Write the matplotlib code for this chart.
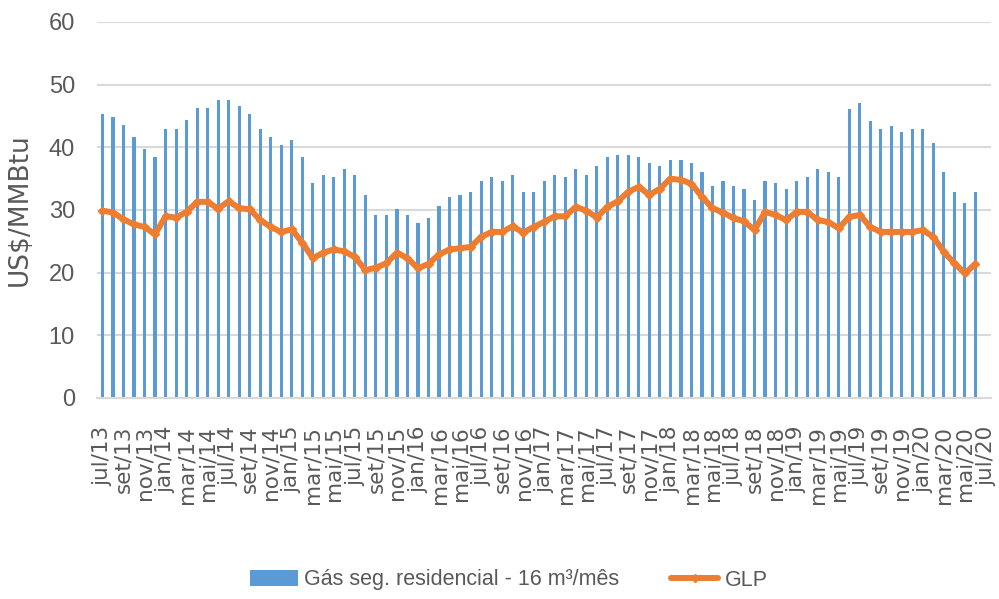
import matplotlib
matplotlib.use("Agg")
import matplotlib.pyplot as plt
import numpy as np

meses = ["jan", "fev", "mar", "abr", "mai", "jun", "jul", "ago", "set", "out", "nov", "dez"]
# Categories: jul/13 .. jul/20 (85 months)
categorias = []
for k in range(85):
    m = (6 + k) % 12
    a = 13 + (6 + k) // 12
    categorias.append(f"{meses[m]}/{a:02d}")

gas_seg = [45.3, 44.8, 43.5, 41.6, 39.8, 38.4, 43.0, 43.0, 44.4, 46.2,
           46.2, 47.5, 47.5, 46.6, 45.3, 43.0, 41.6, 40.3, 41.2, 38.4,
           34.3, 35.6, 35.2, 36.6, 35.6, 32.4, 29.2, 29.2, 30.2, 29.2,
           27.9, 28.8, 30.7, 32.0, 32.4, 32.9, 34.7, 35.2, 34.7, 35.6,
           32.9, 32.9, 34.7, 35.6, 35.2, 36.6, 35.6, 37.0, 38.4, 38.8,
           38.8, 38.4, 37.5, 37.0, 37.9, 37.9, 37.5, 36.1, 33.8, 34.7,
           33.8, 33.3, 31.6, 34.7, 34.3, 33.3, 34.7, 35.2, 36.6, 36.1,
           35.2, 46.1, 47.0, 44.2, 42.9, 43.4, 42.5, 42.9, 42.9, 40.7,
           36.1, 32.9, 31.1, 32.9]

glp = [29.9, 29.6, 28.5, 27.7, 27.3, 26.1, 29.0, 28.8, 29.7, 31.3,
       31.3, 30.2, 31.4, 30.3, 30.1, 28.4, 27.3, 26.5, 26.9, 24.8,
       22.3, 23.2, 23.7, 23.4, 22.5, 20.4, 20.8, 21.5, 23.2, 22.3,
       20.7, 21.4, 22.9, 23.7, 23.9, 24.1, 25.7, 26.5, 26.5, 27.4,
       26.4, 27.3, 28.1, 29.0, 29.0, 30.5, 29.9, 28.8, 30.5, 31.4,
       32.9, 33.7, 32.4, 33.4, 35.0, 34.8, 34.2, 32.1, 30.3, 29.6,
       28.7, 28.2, 26.8, 29.7, 29.2, 28.4, 29.7, 29.7, 28.4, 28.1,
       27.1, 28.9, 29.2, 27.3, 26.5, 26.5, 26.5, 26.5, 26.8, 25.7,
       23.3, 21.5, 19.9, 21.4]

yticks = [0, 10, 20, 30, 40, 50, 60]

blue = "#5B9BD5"
orange = "#ED7D31"
grid_c = "#D9D9D9"
txt_c = "#595959"

narrow = ["Liberation Sans", "DejaVu Sans"]

fig = plt.figure(figsize=(9.99, 5.99), dpi=100)
ax = fig.add_axes([97.2 / 999, 1 - 398 / 599, 894 / 999, 376 / 599])

x = np.arange(len(gas_seg))
bars = ax.bar(x, gas_seg, width=0.3, color=blue, zorder=2)
line, = ax.plot(x, glp, color=orange, lw=4.3, marker="D", markersize=4,
                zorder=3, solid_capstyle="round")

ax.set_xlim(-0.5, len(categorias) - 0.5)
ax.set_ylim(0, 60)
ax.set_yticks(yticks)
ax.set_yticklabels([str(v) for v in yticks], family=narrow, fontsize=17, color=txt_c)
ax.tick_params(axis="y", length=0, pad=16)

ax.set_xticks(np.arange(0, len(categorias), 2))
ax.set_xticklabels(categorias[::2], rotation=90, fontsize=15.5, color=txt_c,
                   family="DejaVu Sans")
ax.tick_params(axis="x", length=0, pad=20)

ax.grid(axis="y", color=grid_c, lw=1.5, zorder=0)
ax.set_axisbelow(True)
for s in ["top", "right", "left"]:
    ax.spines[s].set_visible(False)
ax.spines["bottom"].set_color(grid_c)
ax.spines["bottom"].set_linewidth(1.5)

ax.set_ylabel("US$/MMBtu", fontsize=19, color=txt_c, family="DejaVu Sans")
ax.yaxis.set_label_coords(-(97.2 - 33) / 894, 0.5)

leg = fig.legend([bars, line], ["Gás seg. residencial - 16 m³/mês", "GLP"],
                 loc="center", bbox_to_anchor=(509 / 999, 1 - 580 / 599),
                 ncol=2, frameon=False, prop={"family": narrow, "size": 15.5},
                 handlelength=2.2, handleheight=0.7, columnspacing=2.4, handletextpad=0.3)
for t in leg.get_texts():
    t.set_color(txt_c)

fig.savefig("out.png", dpi=100)
